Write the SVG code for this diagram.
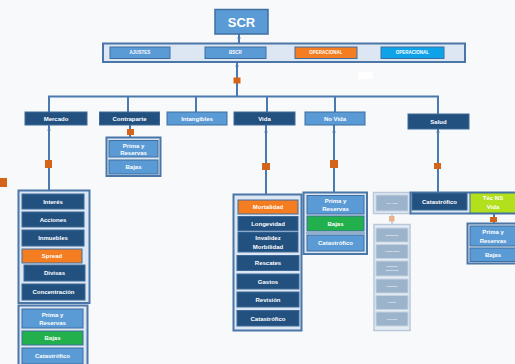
<svg xmlns="http://www.w3.org/2000/svg" width="515" height="364" viewBox="0 0 515 364">
  <defs>
    <style>
      text { font-family: "Liberation Sans", Arial, sans-serif; font-weight: bold; fill: #ffffff; text-anchor: middle; dominant-baseline: central; font-size: 6px; }
      .line { stroke: #4a7bb0; stroke-width: 2; fill: none; }
      .dot { fill: #4a7bb0; }
      .tick { fill: #d4641a; }
      .panel { fill: #dde7f3; stroke: #4a76a8; stroke-width: 2; }
      .dark { fill: #22507f; stroke: #3d6a9a; stroke-width: 1; }
      .mid { fill: #5b9bd5; stroke: #3f6fa0; stroke-width: 1; }
      .org { fill: #f47d22; stroke: #3f6fa0; stroke-width: 1; }
      .grn { fill: #21b04b; stroke: #3f6fa0; stroke-width: 1; }
      .lime { fill: #b2e01c; stroke: #3f6fa0; stroke-width: 1; }
      .sky { fill: #0ea2e8; stroke: #3f6fa0; stroke-width: 1; }
      .fadepanel { fill: #e6ecf3; stroke: #b9c8da; stroke-width: 1.5; }
      .fade { fill: #9cb3cc; stroke: #c3d1e1; stroke-width: 1; }
      .fadetext { font-size: 2.5px; fill: #eef2f7; }
    </style>
  </defs>

  <rect width="515" height="364" fill="#f8f9fb"/>

  <!-- connectors -->
  <g id="connectors">
    <line class="line" x1="239" y1="34" x2="239" y2="43"/>
    <circle class="dot" cx="239" cy="38" r="1.5"/>
    <line class="line" x1="237" y1="62" x2="237" y2="97"/>
    <circle class="dot" cx="237" cy="66" r="1.5"/>
    <rect class="tick" x="233.5" y="77.5" width="7" height="6"/>
    <polyline class="line" points="49,112 49,96.5 438,96.5 438,114"/>
    <line class="line" x1="128" y1="96.5" x2="128" y2="112"/>
    <line class="line" x1="196" y1="96.5" x2="196" y2="112"/>
    <line class="line" x1="267" y1="96.5" x2="267" y2="112"/>
    <line class="line" x1="335" y1="96.5" x2="335" y2="112"/>

    <!-- Mercado -->
    <line class="line" x1="49" y1="125" x2="49" y2="190"/>
    <circle class="dot" cx="49" cy="130" r="1.5"/>
    <rect class="tick" x="45" y="160" width="7" height="8"/>
    <rect class="tick" x="0" y="178" width="7" height="9"/>
    <!-- Contraparte -->
    <line class="line" x1="130" y1="125" x2="130" y2="137"/>
    <rect class="tick" x="127" y="129" width="7" height="6"/>
    <!-- Vida -->
    <line class="line" x1="266" y1="125" x2="266" y2="194"/>
    <circle class="dot" cx="266" cy="132" r="1.5"/>
    <rect class="tick" x="262" y="163" width="8" height="7"/>
    <!-- No Vida -->
    <line class="line" x1="334" y1="125" x2="334" y2="192"/>
    <circle class="dot" cx="334" cy="132" r="1.5"/>
    <rect class="tick" x="330" y="160" width="8" height="8"/>
    <!-- Salud -->
    <line class="line" x1="438" y1="129" x2="438" y2="193"/>
    <circle class="dot" cx="438" cy="132" r="1.5"/>
    <rect class="tick" x="434" y="163" width="7" height="6"/>
    <!-- Salud sub-branches -->
    <line x1="392" y1="213" x2="392" y2="224" stroke="#b9c8da" stroke-width="1.5"/>
    <rect x="389" y="216" width="5.5" height="5.5" fill="#eab28a"/>
    <line class="line" x1="494" y1="213" x2="494" y2="223"/>
    <rect class="tick" x="490" y="217" width="7" height="5"/>
  </g>

  <!-- top level -->
  <g id="scr">
    <rect x="215" y="9.5" width="53" height="24.5" fill="#5b9bd5" stroke="#3f6fa0" stroke-width="1.5"/>
    <text x="241.5" y="22" style="font-size:13px">SCR</text>
  </g>

  <g id="modulos">
    <rect class="panel" x="103" y="43.5" width="362" height="18.5"/>
    <rect class="mid" x="110" y="47" width="60" height="11.5"/>
    <text x="140" y="52.8" style="font-size:4.5px">AJUSTES</text>
    <rect class="mid" x="205" y="47" width="61" height="11.5"/>
    <text x="235.5" y="52.8" style="font-size:4.5px">BSCR</text>
    <rect class="org" x="295" y="47" width="62" height="11.5"/>
    <text x="326" y="52.8" style="font-size:4.5px">OPERACIONAL</text>
    <rect class="sky" x="381" y="47" width="63" height="11.5"/>
    <text x="412.5" y="52.8" style="font-size:4.5px">OPERACIONAL</text>
  </g>
  <rect x="358" y="72" width="15" height="7" fill="#ffffff"/>

  <!-- second level -->
  <g id="mercado">
    <rect class="dark" x="25" y="112" width="62" height="13"/>
    <text x="56" y="118.5">Mercado</text>
  </g>
  <g id="contraparte">
    <rect class="dark" x="99.5" y="112" width="60" height="13"/>
    <text x="129.5" y="118.5">Contraparte</text>
  </g>
  <g id="intangibles">
    <rect class="mid" x="167" y="112" width="60" height="13"/>
    <text x="197" y="118.5">Intangibles</text>
  </g>
  <g id="vida">
    <rect class="dark" x="234" y="112" width="61" height="13"/>
    <text x="264.5" y="118.5">Vida</text>
  </g>
  <g id="no-vida">
    <rect class="mid" x="305" y="112" width="60" height="13"/>
    <text x="335" y="118.5">No Vida</text>
  </g>
  <g id="salud">
    <rect class="dark" x="408" y="114" width="61" height="15"/>
    <text x="438.5" y="121.5">Salud</text>
  </g>

  <!-- Contraparte detail -->
  <g id="contraparte-sub">
    <rect class="panel" x="106.5" y="137.5" width="54" height="38.5"/>
    <rect class="mid" x="109" y="140.5" width="49" height="16.5"/>
    <text x="133.5" y="145.5">Prima y</text>
    <text x="133.5" y="153">Reservas</text>
    <rect class="mid" x="109" y="160" width="49" height="14"/>
    <text x="133.5" y="167">Bajas</text>
  </g>

  <!-- Mercado detail -->
  <g id="mercado-sub">
    <rect class="panel" x="18.5" y="190.5" width="71" height="112.5"/>
    <rect class="dark" x="22" y="194" width="62" height="15"/>
    <text x="53" y="201.5">Interés</text>
    <rect class="dark" x="22" y="212" width="62" height="15"/>
    <text x="53" y="219.5">Acciones</text>
    <rect class="dark" x="22" y="230" width="62" height="16"/>
    <text x="53" y="238">Inmuebles</text>
    <rect class="org" x="22" y="249" width="60" height="14"/>
    <text x="52" y="256">Spread</text>
    <rect class="dark" x="24" y="265" width="61" height="16"/>
    <text x="54.5" y="273">Divisas</text>
    <rect class="dark" x="22" y="284" width="63" height="16"/>
    <text x="53.5" y="292">Concentración</text>
  </g>
  <g id="mercado-sub2">
    <rect class="panel" x="18.5" y="305.5" width="69" height="60"/>
    <rect class="mid" x="22" y="309" width="61" height="19"/>
    <text x="52.5" y="314.5">Prima y</text>
    <text x="52.5" y="322.5">Reservas</text>
    <rect class="grn" x="22" y="331" width="61" height="14"/>
    <text x="52.5" y="338">Bajas</text>
    <rect class="mid" x="22" y="348" width="61" height="16"/>
    <text x="52.5" y="356">Catastrófico</text>
  </g>

  <!-- Vida detail -->
  <g id="vida-sub">
    <rect class="panel" x="233.5" y="194.5" width="68" height="136"/>
    <rect class="org" x="238" y="200" width="60" height="14"/>
    <text x="268" y="207">Mortalidad</text>
    <rect class="dark" x="238" y="216.5" width="60" height="14"/>
    <text x="268" y="223.5">Longevidad</text>
    <rect class="dark" x="238" y="232" width="60" height="20"/>
    <text x="268" y="237.5">Invalidez</text>
    <text x="268" y="246.5">Morbilidad</text>
    <rect class="dark" x="237" y="255.5" width="62" height="15"/>
    <text x="268" y="263">Rescates</text>
    <rect class="dark" x="237" y="274" width="62" height="15"/>
    <text x="268" y="281.5">Gastos</text>
    <rect class="dark" x="237" y="292" width="62" height="15"/>
    <text x="268" y="299.5">Revisión</text>
    <rect class="dark" x="237" y="310.5" width="62" height="15.5"/>
    <text x="268" y="318.5">Catastrófico</text>
  </g>

  <!-- No Vida detail -->
  <g id="no-vida-sub">
    <rect class="panel" x="303.5" y="192.5" width="63.5" height="61.5"/>
    <rect class="mid" x="307" y="195.5" width="57" height="18.5"/>
    <text x="335.5" y="200.5">Prima y</text>
    <text x="335.5" y="209">Reservas</text>
    <rect class="grn" x="307" y="216" width="57" height="15"/>
    <text x="335.5" y="223.5">Bajas</text>
    <line x1="306" y1="233" x2="365" y2="233" stroke="#4a76a8" stroke-width="1"/>
    <rect class="mid" x="307" y="235" width="57" height="16"/>
    <text x="335.5" y="243">Catastrófico</text>
  </g>

  <!-- Salud detail -->
  <g id="salud-tec-vida">
    <rect class="fadepanel" x="373.5" y="192.5" width="37" height="21"/>
    <rect class="fade" x="376" y="195" width="32" height="16"/>
    <text class="fadetext" x="392" y="203">Téc. Vida</text>
  </g>
  <g id="salud-tec-vida-sub">
    <rect class="fadepanel" x="374" y="224.5" width="36" height="106"/>
    <rect class="fade" x="376" y="228" width="32" height="14"/>
    <text class="fadetext" x="392" y="235">Mortalidad</text>
    <rect class="fade" x="376" y="244.5" width="32" height="14"/>
    <text class="fadetext" x="392" y="251.5">Longevidad</text>
    <rect class="fade" x="376" y="261" width="32" height="15"/>
    <text class="fadetext" x="392" y="266.5">Invalidez</text>
    <text class="fadetext" x="392" y="270.5">Morbilidad</text>
    <rect class="fade" x="376" y="279" width="32" height="14"/>
    <text class="fadetext" x="392" y="286">Rescates</text>
    <rect class="fade" x="376" y="295.5" width="32" height="14"/>
    <text class="fadetext" x="392" y="302.5">Gastos</text>
    <rect class="fade" x="376" y="312" width="32" height="14"/>
    <text class="fadetext" x="392" y="319">Revisión</text>
  </g>
  <g id="salud-cat">
    <rect class="panel" x="410.5" y="192.5" width="106" height="21"/>
    <rect class="dark" x="412" y="193" width="55" height="17"/>
    <text x="439.5" y="201.5">Catastrófico</text>
  </g>
  <g id="salud-tec-no-vida">
    <rect class="lime" x="470" y="193" width="46" height="20"/>
    <text x="493" y="198">Téc NS</text>
    <text x="493" y="207">Vida</text>
  </g>
  <g id="salud-tec-no-vida-sub">
    <rect class="panel" x="467.5" y="223.5" width="49" height="40"/>
    <rect class="mid" x="470" y="226" width="46" height="20"/>
    <text x="493" y="231.5">Prima y</text>
    <text x="493" y="240.5">Reservas</text>
    <rect class="mid" x="470" y="248" width="46" height="13.5"/>
    <text x="493" y="254.8">Bajas</text>
  </g>
</svg>
